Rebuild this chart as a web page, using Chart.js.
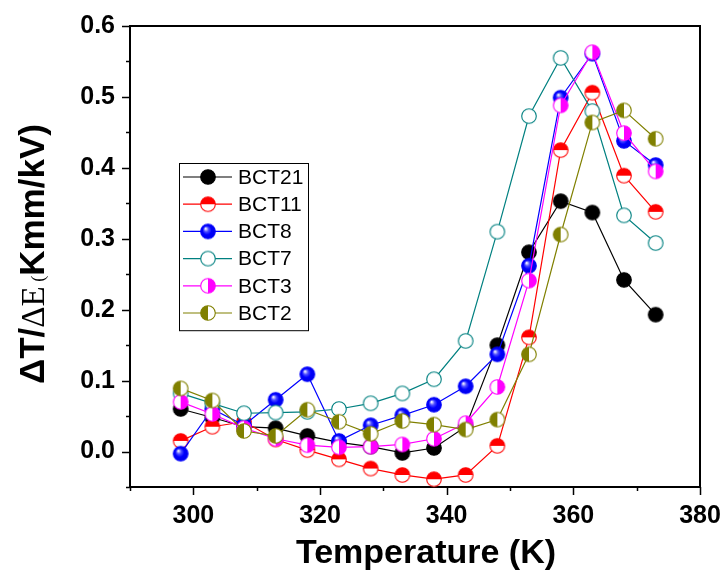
<!DOCTYPE html>
<html>
<head>
<meta charset="utf-8">
<script src="https://cdn.jsdelivr.net/npm/chart.js@4.4.0/dist/chart.umd.min.js"></script>
<style>
html, body { margin: 0; padding: 0; background: #fff; }
</style>
</head>
<body>
<canvas id="chart" width="725" height="574"></canvas>
<script>
// temperatures (K) of every measurement
let temps = [298, 303, 308, 313, 318, 323, 328, 333, 338, 343, 348, 353, 358, 363, 368, 373]
// dT/dE values, one array per sample
let bct21 = [0.060, 0.048, 0.035, 0.033, 0.022, 0.013, 0.007, -0.002, 0.005, 0.035, 0.150, 0.281, 0.353, 0.337, 0.242, 0.193]
let bct11 = [0.015, 0.035, 0.042, 0.017, 0.002, -0.011, -0.024, -0.033, -0.039, -0.033, 0.008, 0.161, 0.425, 0.506, 0.389, 0.338]
let bct8 = [-0.003, 0.060, 0.037, 0.073, 0.109, 0.015, 0.037, 0.051, 0.066, 0.092, 0.137, 0.262, 0.499, 0.561, 0.438, 0.404]
let bct7 = [0.082, 0.068, 0.054, 0.055, 0.056, 0.060, 0.068, 0.082, 0.102, 0.156, 0.310, 0.473, 0.555, 0.480, 0.333, 0.294]
let bct3 = [0.070, 0.053, 0.033, 0.018, 0.009, 0.006, 0.007, 0.010, 0.018, 0.040, 0.091, 0.241, 0.488, 0.563, 0.449, 0.395]
let bct2 = [0.089, 0.072, 0.029, 0.022, 0.059, 0.042, 0.025, 0.043, 0.038, 0.031, 0.045, 0.137, 0.306, 0.464, 0.481, 0.441]

let seriesNames = ['BCT21', 'BCT11', 'BCT8', 'BCT7', 'BCT3', 'BCT2']
let seriesValues = [bct21, bct11, bct8, bct7, bct3, bct2]
let seriesColors = ['#000000', '#ff0000', '#0000ff', '#008080', '#ff00ff', '#808000']
let seriesMarkers = ['full', 'top', 'ball', 'open', 'right', 'left']

// tick positions and which ones get a label
let xTicks = [290, 300, 310, 320, 330, 340, 350, 360, 370, 380]
let xTickLabels = [300, 320, 340, 360, 380]
let yTicks = [0.0, 0.1, 0.2, 0.3, 0.4, 0.5, 0.6]
let yMinorTicks = [-0.05, 0.05, 0.15, 0.25, 0.35, 0.45, 0.55]

//making a small canvas for every marker style (half filled circles etc)
function makeMarker(kind, color) {
    let c = document.createElement('canvas')
    c.width = 18
    c.height = 18
    let g = c.getContext('2d')
    let r = 7.3
    g.beginPath()
    g.arc(9, 9, r, 0, Math.PI * 2)
    if (kind === 'ball') {
        let grad = g.createRadialGradient(6.5, 6, 0.3, 9, 9, r)
        grad.addColorStop(0, '#ffffff')
        grad.addColorStop(0.3, '#5050ff')
        grad.addColorStop(0.6, '#0000ff')
        grad.addColorStop(1, '#0000e6')
        g.fillStyle = grad
    } else if (kind === 'full') {
        g.fillStyle = color
    } else {
        g.fillStyle = '#ffffff'
    }
    g.fill()
    // half filled ones
    if (kind === 'top' || kind === 'left' || kind === 'right') {
        g.save()
        g.beginPath()
        if (kind === 'top') g.rect(0, 0, 18, 9)
        if (kind === 'left') g.rect(0, 0, 9, 18)
        if (kind === 'right') g.rect(9, 0, 9, 18)
        g.clip()
        g.beginPath()
        g.arc(9, 9, r, 0, Math.PI * 2)
        g.fillStyle = color
        g.fill()
        g.restore()
    }
    g.beginPath()
    g.arc(9, 9, r, 0, Math.PI * 2)
    g.lineWidth = 1.1
    g.strokeStyle = color
    g.stroke()
    return c
}

let markers = seriesMarkers.map(function(m, i) { return makeMarker(m, seriesColors[i]) })

let datasets = []
for (let i = 0; i < seriesNames.length; i++) {
    datasets.push({
        label: seriesNames[i],
        data: temps.map(function(t, j) { return { x: t, y: seriesValues[i][j] } }),
        borderColor: seriesColors[i],
        borderWidth: 1.2,
        pointStyle: markers[i],
        pointRadius: 8,
        pointHoverRadius: 8,
        tension: 0,
        fill: false,
        clip: false,
        order: seriesNames.length - i
    })
}

// frame, tick marks and axis titles drawn by hand
let framePlugin = {
    id: 'frame',
    beforeDatasetsDraw: function(chart) {
        let ctx = chart.ctx
        let a = chart.chartArea
        let xs = chart.scales.x
        let ys = chart.scales.y
        ctx.save()
        ctx.strokeStyle = '#000'
        ctx.lineWidth = 2
        ctx.strokeRect(a.left, a.top, a.right - a.left, a.bottom - a.top)
        ctx.lineWidth = 1.5
        ctx.beginPath()
        xTicks.forEach(function(v) {
            let px = Math.round(xs.getPixelForValue(v)) + 0.5
            let len = xTickLabels.indexOf(v) >= 0 ? 8 : 4
            ctx.moveTo(px, a.bottom)
            ctx.lineTo(px, a.bottom + len)
        })
        yTicks.forEach(function(v) {
            let py = Math.round(ys.getPixelForValue(v)) + 0.5
            ctx.moveTo(a.left, py)
            ctx.lineTo(a.left - 8, py)
        })
        yMinorTicks.forEach(function(v) {
            let py = Math.round(ys.getPixelForValue(v)) + 0.5
            ctx.moveTo(a.left, py)
            ctx.lineTo(a.left - 4, py)
        })
        ctx.stroke()

        // x title
        ctx.fillStyle = '#000'
        ctx.font = 'bold 34px "Liberation Sans", Arial, sans-serif'
        ctx.textAlign = 'center'
        ctx.textBaseline = 'alphabetic'
        ctx.fillText('Temperature (K)', 426, 563)

        // y title, mixed fonts like the original
        let parts = [
            ['\u0394T/', 'bold 35px "Liberation Sans", Arial, sans-serif', 0],
            ['\u0394E', '33px "Liberation Serif", "Times New Roman", serif', 0],
            [' (', '18px "Liberation Serif", "Times New Roman", serif', 0],
            ['Kmm/kV)', 'bold 35px "Liberation Sans", Arial, sans-serif', 0]
        ]
        let total = 0
        parts.forEach(function(p) {
            ctx.font = p[1]
            p[2] = ctx.measureText(p[0]).width
            total += p[2]
        })
        ctx.translate(44, 254)
        ctx.rotate(-Math.PI / 2)
        ctx.textAlign = 'left'
        let pos = -total / 2
        parts.forEach(function(p) {
            ctx.font = p[1]
            ctx.fillText(p[0], pos, 0)
            pos += p[2]
        })
        ctx.restore()
    },
    afterDatasetsDraw: function(chart) {
        // legend box
        let ctx = chart.ctx
        let left = 179, top = 163, w = 129, rowH = 27.2
        ctx.save()
        ctx.fillStyle = '#fff'
        ctx.fillRect(left, top, w, rowH * seriesNames.length + 4)
        ctx.strokeStyle = '#000'
        ctx.lineWidth = 1
        ctx.strokeRect(left + 0.5, top + 0.5, w, rowH * seriesNames.length + 4)
        ctx.font = '21px "Liberation Sans", Arial, sans-serif'
        ctx.textBaseline = 'middle'
        ctx.textAlign = 'left'
        for (let i = 0; i < seriesNames.length; i++) {
            let y = top + 14 + i * rowH
            ctx.strokeStyle = seriesColors[i]
            ctx.lineWidth = 1.2
            ctx.beginPath()
            ctx.moveTo(183, y)
            ctx.lineTo(232, y)
            ctx.stroke()
            ctx.drawImage(markers[i], 208 - 9, y - 9)
            ctx.fillStyle = '#000'
            ctx.fillText(seriesNames[i], 238, y + 1)
        }
        ctx.restore()
    }
}

let ctx = document.getElementById('chart').getContext('2d')
new Chart(ctx, {
    type: 'line',
    data: { datasets: datasets },
    plugins: [framePlugin],
    options: {
        responsive: false,
        animation: false,
        devicePixelRatio: 1,
        layout: { padding: { left: 0, right: 25, top: 26, bottom: 0 } },
        plugins: { legend: { display: false }, tooltip: { enabled: false } },
        scales: {
            x: {
                type: 'linear',
                min: 290,
                max: 380,
                afterFit: function(s) {
                    s.height = 87
                    s.paddingLeft = 0
                    s.paddingRight = 0
                },
                afterBuildTicks: function(s) { s.ticks = xTicks.map(function(v) { return { value: v } }) },
                grid: { display: false, drawTicks: false },
                border: { display: false },
                ticks: {
                    padding: 14,
                    maxRotation: 0,
                    autoSkip: false,
                    color: '#000',
                    font: { family: '"Liberation Sans", Arial, sans-serif', size: 25, weight: 'bold' },
                    callback: function(v) { return xTickLabels.indexOf(v) >= 0 ? String(v) : '' }
                }
            },
            y: {
                min: -0.05,
                max: 0.6,
                afterFit: function(s) {
                    s.width = 130
                    s.paddingTop = 0
                    s.paddingBottom = 0
                },
                afterBuildTicks: function(s) { s.ticks = yTicks.map(function(v) { return { value: v } }) },
                grid: { display: false, drawTicks: false },
                border: { display: false },
                ticks: {
                    padding: 15,
                    color: '#000',
                    font: { family: '"Liberation Sans", Arial, sans-serif', size: 25, weight: 'bold' },
                    callback: function(v) { return v.toFixed(1) }
                }
            }
        }
    }
})
</script>
</body>
</html>
